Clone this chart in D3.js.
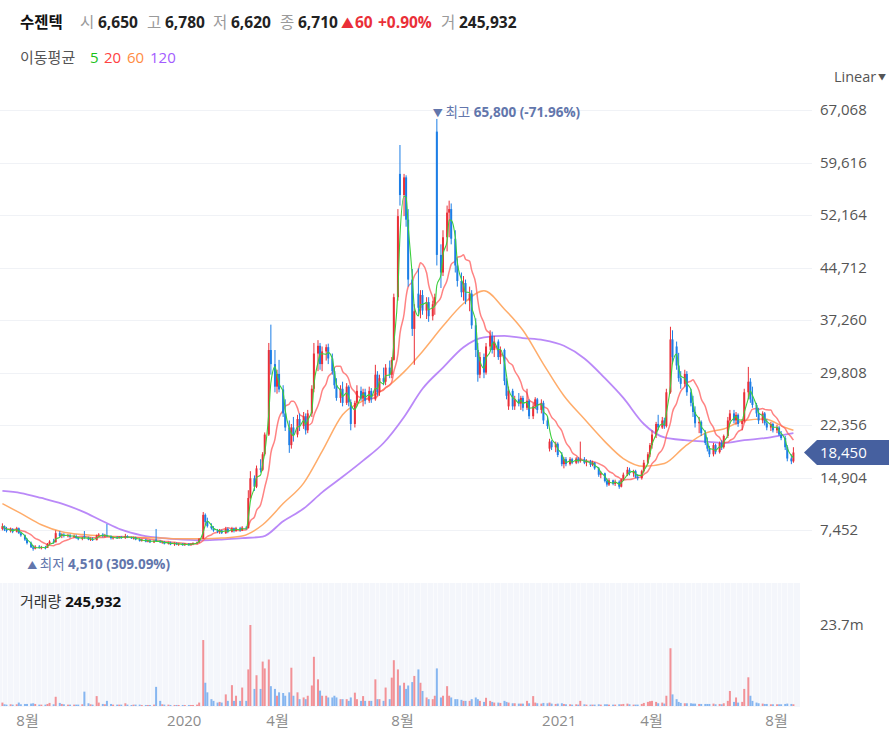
<!DOCTYPE html>
<html><head><meta charset="utf-8">
<script src="https://cdn.jsdelivr.net/npm/d3@7"></script>
<style>
html,body{margin:0;padding:0;background:#fff;}
svg{display:block;font-family:"Open Sans","Noto Sans CJK KR",sans-serif;}
</style></head><body>
<svg id="c" width="889" height="739"></svg>
<script>
// ---------- DATA ----------
const stockName = "수젠텍";
const headerLabels = ["시","고","저","종"];
const headerValues = ["6,650","6,780","6,620","6,710"];
const headerChange = ["▲","60","+0.90%"];
const headerVolume = ["거","245,932"];
const maLegend = ["5","20","60","120"];
const volumeLabel = "거래량";
const volumeMaxLabel = "23.7m";
const volumeMax = 23.7e6;
const yTicks = [7452,14904,22356,29808,37260,44712,52164,59616,67068];
const xTickDates = ["2019-08-01","2020-01-01","2020-04-01","2020-08-01","2021-01-01","2021-04-01","2021-08-01"];
const xTickLabels = ["8월","2020","4월","8월","2021","4월","8월"];
const firstCandleDate = "2019-07-08"; // one candle = 2 trading days
// candles: [open, high, low, close] in thousand KRW
const candles = [
[7.6,8.4,7.4,8.0],[8.0,8.1,7.3,7.5],[7.5,7.9,7.1,7.3],[7.3,7.8,7.1,7.6],[7.6,7.7,7.0,7.2],[7.2,7.9,7.1,7.7],[7.7,7.8,6.9,7.0],[7.0,7.2,6.5,6.7],[6.7,6.8,5.9,6.1],[6.1,6.3,5.4,5.6],
[5.6,5.8,4.9,5.0],[5.0,5.3,4.51,4.8],[4.8,5.3,4.7,5.1],[5.1,5.3,4.8,4.9],[4.9,5.2,4.7,5.0],[5.0,5.2,4.7,4.9],[4.9,5.6,4.9,5.5],[5.5,6.0,5.3,5.8],[5.8,6.2,5.5,5.7],[5.7,7.4,5.7,7.0],
[7.0,7.3,6.4,6.6],[6.6,7.0,6.3,6.8],[6.8,7.0,6.4,6.6],[6.6,6.9,6.4,6.7],[6.7,6.9,6.3,6.5],[6.5,6.8,6.3,6.6],[6.6,6.8,6.2,6.3],[6.3,6.5,6.0,6.2],[6.2,6.5,6.0,6.4],[6.6,7.3,6.2,6.4],
[6.4,6.5,6.0,6.1],[6.1,6.4,5.9,6.2],[6.2,6.4,5.9,6.0],[6.0,6.8,6.0,6.7],[6.7,7.0,6.5,6.8],[6.8,7.0,6.4,6.6],[6.6,6.9,6.4,6.7],[6.7,8.3,6.5,6.6],[6.6,6.7,6.1,6.3],[6.3,6.5,6.1,6.4],
[6.4,6.6,6.2,6.3],[6.3,6.6,6.2,6.5],[6.5,6.6,6.2,6.3],[6.3,6.9,6.2,6.6],[6.6,6.7,6.3,6.4],[6.4,6.5,6.2,6.3],[6.3,6.5,6.1,6.4],[6.4,6.5,6.0,6.1],[6.1,6.3,5.8,5.9],[5.9,6.2,5.8,6.1],
[6.1,6.2,5.7,5.8],[5.8,6.1,5.7,6.0],[6.0,6.1,5.6,5.7],[5.7,6.0,5.6,5.9],[6.1,7.6,5.8,5.9],[5.9,6.0,5.6,5.7],[5.7,5.9,5.5,5.8],[5.8,5.9,5.4,5.5],[5.5,5.8,5.4,5.7],[5.7,5.8,5.3,5.4],
[5.4,5.7,5.2,5.6],[5.6,5.7,5.3,5.4],[5.4,5.6,5.2,5.5],[5.5,5.6,5.2,5.3],[5.3,5.6,5.2,5.5],[5.5,5.6,5.2,5.3],[5.3,5.6,5.2,5.5],[5.5,5.7,5.3,5.6],[5.6,5.8,5.4,5.7],[5.7,6.3,5.6,6.2],
[6.2,10.0,6.2,9.6],[9.6,9.8,8.2,8.6],[8.6,9.2,7.8,8.0],[8.0,8.4,7.5,7.7],[7.7,8.0,7.2,7.4],[7.4,7.6,7.0,7.2],[7.2,7.6,6.9,7.4],[7.4,7.5,6.9,7.0],[7.0,7.9,6.9,7.6],[7.6,7.8,7.0,7.2],
[7.2,7.9,7.1,7.7],[7.7,7.8,7.1,7.3],[7.3,7.9,7.2,7.7],[7.7,7.9,7.2,7.4],[7.4,8.0,7.3,7.8],[7.8,8.0,7.5,7.7],[7.7,13.1,7.7,12.0],[12.0,15.8,11.8,14.8],[14.8,15.2,13.0,13.6],[13.6,16.6,13.4,16.2],
[16.2,17.5,15.6,16.0],[16.0,18.5,15.8,18.2],[18.2,21.3,18.0,21.0],[21.0,34.0,20.8,33.0],[33.0,36.6,29.5,31.0],[31.0,33.0,27.0,27.8],[27.8,30.2,26.8,29.6],[29.6,31.6,27.0,27.4],[27.4,28.0,23.5,24.0],[24.0,26.0,21.5,22.0],
[22.0,23.0,18.4,19.5],[19.5,22.5,19.0,22.0],[22.0,23.5,20.0,21.0],[21.0,23.8,20.6,23.2],[23.2,24.0,21.5,22.2],[22.2,24.2,21.8,23.6],[23.6,24.0,21.0,21.6],[21.6,24.5,21.2,24.0],[24.0,28.0,23.5,27.5],[27.5,34.0,27.0,32.5],
[32.5,34.4,30.0,33.6],[33.6,34.0,30.2,31.0],[31.0,33.5,30.0,32.8],[32.8,33.8,31.5,33.4],[33.4,33.9,31.0,31.8],[31.8,32.5,29.5,30.0],[30.0,30.5,27.5,28.0],[28.0,29.0,25.8,26.2],[26.2,28.0,25.5,27.5],[27.5,28.5,25.0,25.5],
[25.5,28.3,25.2,27.8],[27.8,28.0,25.0,25.6],[25.6,26.0,21.6,22.5],[22.5,25.8,22.0,25.5],[25.5,28.0,25.0,27.2],[27.2,27.8,25.8,26.2],[26.2,27.5,25.0,27.0],[27.0,27.5,25.3,25.8],[25.8,27.8,25.5,27.2],[27.2,27.6,25.5,26.0],
[26.0,30.9,25.8,29.5],[29.5,30.0,26.5,27.0],[27.0,29.5,26.5,29.0],[29.0,30.5,28.0,28.5],[28.5,31.0,28.0,30.5],[30.5,31.5,29.0,29.5],[29.5,32.0,29.0,31.6],[31.6,41.0,31.5,40.5],[40.5,53.0,40.0,52.0],[58.0,62.1,53.5,55.0],
[55.0,58.0,52.0,57.5],[57.5,57.8,50.5,51.5],[51.5,53.0,42.0,43.0],[43.0,44.5,35.0,36.0],[36.0,39.5,30.9,38.5],[41.0,44.6,38.0,39.0],[39.0,41.5,37.5,40.8],[40.8,41.5,38.0,38.6],[38.6,40.5,37.4,39.8],[39.8,40.5,37.0,37.8],
[37.8,40.0,37.2,39.5],[39.5,41.0,38.0,40.5],[64.0,65.8,45.0,46.5],[46.5,48.0,41.8,44.0],[44.0,50.0,43.5,49.0],[49.0,53.5,47.0,52.5],[52.5,54.2,49.0,53.0],[53.0,53.8,48.0,48.8],[48.8,50.0,44.0,45.0],[45.0,46.0,42.0,42.8],
[42.8,44.0,40.5,41.2],[41.2,43.5,40.0,42.5],[42.5,43.0,39.5,40.0],[40.0,42.0,38.5,41.0],[41.0,41.5,36.0,36.5],[36.5,37.5,32.0,33.0],[33.0,34.0,28.5,29.5],[29.5,32.7,29.0,32.0],[32.0,32.5,29.0,29.8],[29.8,34.0,29.5,33.5],
[33.5,35.8,33.0,35.0],[35.0,35.6,32.5,33.0],[33.0,35.0,32.0,34.2],[34.2,34.5,31.6,32.0],[32.0,33.5,31.0,33.0],[33.0,33.2,28.0,28.6],[28.6,29.0,26.0,26.5],[25.0,27.8,24.5,27.2],[27.2,27.5,24.5,25.0],[25.0,26.5,24.5,26.0],
[26.0,26.9,25.0,25.4],[25.4,26.5,24.5,26.2],[26.2,26.5,24.3,24.8],[24.8,27.5,24.5,25.8],[25.8,26.0,23.2,23.6],[23.6,25.5,23.2,25.0],[25.0,26.3,24.6,26.0],[26.0,26.2,24.0,24.5],[24.5,26.0,24.0,25.5],[25.5,25.8,22.5,23.0],
[23.0,23.5,21.8,22.2],[19.0,20.4,18.6,20.0],[20.0,20.2,18.8,19.2],[19.2,20.0,18.5,19.7],[19.7,19.9,17.8,18.1],[18.1,18.5,16.5,16.8],[16.8,17.8,16.2,17.5],[17.5,17.8,16.5,16.8],[16.8,17.8,16.6,17.5],[17.5,17.7,16.8,17.0],
[17.0,17.8,16.8,17.6],[17.6,17.8,16.9,17.2],[17.2,20.0,17.0,17.5],[17.5,17.8,16.8,17.0],[17.0,17.5,16.5,17.2],[17.2,17.4,16.4,16.7],[16.7,17.3,16.5,17.0],[17.0,17.1,16.0,16.2],[16.2,16.4,15.0,15.3],[15.3,15.8,14.8,15.5],
[15.5,15.6,14.2,14.4],[14.4,14.8,13.6,13.9],[13.9,14.8,13.7,14.5],[14.5,14.6,13.8,14.0],[14.0,14.6,13.7,14.3],[14.3,14.5,13.3,13.6],[13.6,14.8,13.5,14.6],[14.6,15.6,14.4,15.3],[15.3,16.4,15.1,16.0],[16.0,16.3,15.2,15.5],
[15.5,16.0,15.0,15.8],[15.8,16.0,14.8,15.0],[15.0,15.4,14.5,14.8],[14.8,16.0,14.6,15.8],[15.8,17.4,15.6,17.0],[17.0,18.5,16.8,18.2],[18.2,19.8,17.8,19.5],[19.5,21.6,19.0,21.0],[21.0,22.8,20.5,22.5],[22.5,23.8,21.6,22.0],
[22.0,23.5,21.8,23.0],[23.0,23.4,21.8,22.2],[22.2,27.5,22.0,27.0],[27.0,36.3,26.8,34.5],[34.5,35.8,31.0,32.0],[33.5,34.2,30.2,30.8],[30.8,32.6,28.5,29.0],[29.0,30.0,27.5,28.2],[28.2,30.2,27.8,29.6],[29.6,30.0,26.5,27.0],
[27.0,27.5,25.0,25.5],[25.5,26.5,23.5,24.2],[24.2,25.0,22.0,22.6],[22.6,23.5,21.2,22.8],[22.8,23.0,20.8,21.2],[21.2,21.6,19.5,19.8],[19.8,20.6,18.6,19.0],[19.0,19.4,17.8,18.2],[18.2,19.8,17.9,19.5],[19.5,19.7,18.2,18.5],
[18.5,20.0,18.3,19.8],[19.8,20.2,18.8,19.2],[19.2,21.0,19.0,20.8],[20.8,23.5,20.5,23.0],[23.0,24.5,22.5,24.0],[24.0,24.5,22.6,23.0],[23.0,24.2,22.4,23.8],[23.8,24.0,22.1,22.5],[22.5,23.2,21.6,22.9],[22.9,27.5,22.7,27.0],
[27.0,30.6,26.0,28.5],[28.5,29.0,25.5,26.0],[26.0,27.8,24.8,25.2],[25.2,25.5,23.5,24.0],[24.0,24.8,22.5,23.0],[23.0,24.3,22.6,24.0],[24.0,24.2,22.3,22.6],[22.6,23.2,21.6,22.0],[22.0,22.8,21.5,22.5],[22.5,22.7,21.3,21.6],
[21.6,22.4,21.2,22.0],[22.0,22.2,20.8,21.0],[21.0,21.5,20.2,20.5],[20.5,20.8,18.8,19.2],[19.2,19.5,17.2,17.6],[17.6,18.2,16.8,17.2],[17.2,19.2,17.0,18.45]
];
// volume per candle, millions of shares
const volumes = [
1.0,0.5,0.4,0.5,0.4,0.5,1.0,0.5,0.6,0.6, 0.7,0.8,0.6,0.4,0.4,0.4,0.6,0.9,0.5,2.7,
0.9,0.6,0.5,0.4,0.4,0.4,0.4,0.4,0.5,4.2, 0.8,0.5,0.4,2.9,1.0,0.6,0.5,1.5,0.6,0.4,
0.4,0.4,0.4,0.8,0.4,0.3,0.4,0.4,0.4,0.3, 0.3,0.3,0.3,0.4,5.6,1.5,0.5,0.4,0.4,0.3,
0.3,0.3,0.3,0.3,0.3,0.3,0.3,0.3,0.4,1.0, 19.3,6.8,4.0,2.0,1.5,1.0,1.2,1.0,3.4,1.5,
6.1,1.5,3.0,1.5,5.4,1.5,10.7,23.7,5.0,9.0, 5.0,13.0,11.0,13.6,5.8,5.0,3.0,4.0,3.8,3.0,
4.0,11.2,3.0,4.0,2.0,2.5,2.0,3.0,6.0,14.4, 7.8,4.5,3.0,3.0,2.5,2.5,3.0,2.5,2.0,2.0,
2.0,1.5,2.5,3.9,2.0,1.5,2.9,1.5,1.5,1.5, 7.8,2.0,2.0,1.5,5.4,2.0,8.3,13.4,10.7,6.0,
6.8,5.0,6.0,7.0,8.8,10.7,6.8,4.4,2.5,2.0, 2.0,3.0,11.0,2.5,3.0,5.8,3.0,2.5,2.0,2.0,
1.8,1.5,1.5,1.5,2.0,2.5,2.0,1.5,1.2,2.4, 1.5,1.2,1.0,1.0,0.9,1.5,1.2,1.0,0.8,0.8,
0.7,0.7,0.7,1.5,0.8,2.9,1.0,0.8,0.7,0.9, 0.8,1.0,0.7,0.6,0.7,0.8,0.6,0.5,0.5,0.4,
0.5,0.4,1.5,0.5,0.4,0.4,0.4,0.4,0.5,0.4, 0.5,0.5,0.4,0.4,0.4,0.5,0.5,0.6,0.7,0.5,
0.4,0.4,0.4,0.6,0.9,1.2,1.4,1.5,1.2,0.8, 1.0,0.7,3.0,16.9,3.4,2.0,1.2,0.9,0.8,0.8,
0.8,0.7,0.7,0.6,0.6,0.6,0.6,0.6,0.7,0.5, 0.6,0.5,0.8,1.5,4.4,1.2,2.5,1.0,1.2,5.0,
8.4,3.0,1.5,1.0,0.8,0.7,0.6,0.6,0.5,0.5, 0.5,0.5,0.5,0.6,0.7,0.6,0.5
];
const maSampleIdx = [0,7,14,21,28,35,42,49,56,63,70,77,84,91,98,105,112,119,126,133,140,147,154,161,168,175,182,189,196,203,210,217,224,231,238,245,252,259,266,273,276];
const ma60 = [11.2,9.8,8.2,7.2,6.8,6.6,6.5,6.4,6.3,6.2,6.2,6.3,6.6,8.2,11.2,14.1,18.6,23.8,25.8,27.4,29.9,32.8,36.4,39.6,41.4,38.8,35.8,31.0,26.5,23.2,20.0,17.6,16.5,16.9,19.3,21.2,21.8,23.0,23.2,22.0,21.6];
const ma120 = [13.0,12.7,12.0,11.2,10.1,8.7,7.5,6.7,6.3,6.1,6.0,6.1,6.3,6.5,8.7,10.5,12.8,15.0,17.3,19.8,23.5,27.5,30.5,33.4,34.8,35.0,34.7,34.4,33.6,31.8,29.0,26.2,22.5,20.6,20.2,20.0,19.8,20.2,20.5,21.0,21.2];

// ---------- CHART ----------
const svg = d3.select("#c");
const K = 1000;
const parse = d3.timeParse("%Y-%m-%d");
const start = parse(firstCandleDate);
const n = Math.min(candles.length, volumes.length);
const rows = d3.range(n).map(i => {
  const k = 2*i; const d = d3.timeDay.offset(start, Math.floor(k/5)*7 + k%5);
  const c = candles[i];
  return {date:d, o:c[0]*K, h:c[1]*K, l:c[2]*K, c:c[3]*K, v:volumes[i]*1e6};
});

const x = d3.scaleTime().domain([parse("2019-08-01"), parse("2021-08-01")]).range([27, 776]);
const y = d3.scaleLinear().domain([0, 67068]).range([582.5, 110]);
const yv = d3.scaleLinear().domain([0, volumeMax]).range([706, 625]);

const UP = "#ea2f38", DOWN = "#1c7ee6";
const C5 = "#3ccf3c", C20 = "#ff6464", C60 = "#ffa35a", C120 = "#b27cf7";

// header
const hdr = svg.append("text").attr("y", 28).attr("font-size", 15.5);
hdr.append("tspan").attr("x", 20).attr("font-weight", 700).attr("fill", "#111").text(stockName);
const lx = [80,147,213,280], vx = [98,165,231,298];
headerLabels.forEach((l,i) => {
  hdr.append("tspan").attr("x", lx[i]).attr("fill", "#9a9a9a").text(l);
  hdr.append("tspan").attr("x", vx[i]).attr("font-weight", 700).attr("fill", "#222").text(headerValues[i]);
});
hdr.append("tspan").attr("x", 341).attr("fill", "#ea2f38").attr("font-size", 13).text(headerChange[0]);
hdr.append("tspan").attr("x", 355).attr("fill", "#ea2f38").attr("font-weight", 700).text(headerChange[1]);
hdr.append("tspan").attr("x", 378).attr("fill", "#ea2f38").attr("font-weight", 700).text(headerChange[2]);
hdr.append("tspan").attr("x", 441).attr("fill", "#9a9a9a").text(headerVolume[0]);
hdr.append("tspan").attr("x", 459).attr("font-weight", 700).attr("fill", "#222").text(headerVolume[1]);

// MA legend
const leg = svg.append("text").attr("y", 63).attr("font-size", 15);
leg.append("tspan").attr("x", 20).attr("fill", "#555").text("이동평균");
const legX = [90,104,127,150], legC = ["#19c219","#ff4242","#ff8c42","#a35cff"];
maLegend.forEach((t,i) => leg.append("tspan").attr("x", legX[i]).attr("fill", legC[i]).text(t));

// Linear
svg.append("text").attr("x", 834).attr("y", 82).attr("font-size", 14.5).attr("fill", "#555").text("Linear");
svg.append("text").attr("x", 878).attr("y", 80).attr("font-size", 8).attr("fill", "#555").text("▼");

// grid
svg.append("g").selectAll("line").data(yTicks).join("line")
  .attr("x1", 0).attr("x2", 812).attr("y1", d => Math.round(y(d))+0.5).attr("y2", d => Math.round(y(d))+0.5)
  .attr("stroke", "#f0f2f6");

// y axis
const ya = svg.append("g").attr("transform", "translate(810,0)")
  .call(d3.axisRight(y).tickValues(yTicks).tickSize(0).tickPadding(10).tickFormat(d3.format(",")));
ya.select(".domain").remove();
ya.selectAll("text").attr("font-size", 15).attr("fill", "#555").attr("font-family", "Open Sans");

// volume panel
svg.append("rect").attr("x", 0).attr("y", 583).attr("width", 800).attr("height", 124).attr("fill", "#f4f6fb");
svg.append("g").selectAll("line").data(rows.filter((d,i) => i % 2 === 0)).join("line")
  .attr("x1", d => Math.round(x(d.date))+0.5).attr("x2", d => Math.round(x(d.date))+0.5)
  .attr("y1", 583).attr("y2", 707).attr("stroke", "#fff").attr("stroke-opacity", 0.7).attr("stroke-width", 0.8);
svg.append("g").selectAll("rect").data(rows).join("rect")
  .attr("x", d => x(d.date) - 1).attr("width", 2)
  .attr("y", d => yv(d.v)).attr("height", d => yv(0) - yv(d.v))
  .attr("fill", d => d.c >= d.o ? "#f29297" : "#86b6f0");
const vl = svg.append("text").attr("x", 20).attr("y", 607).attr("font-size", 15);
vl.append("tspan").attr("fill", "#333").text(volumeLabel + " ");
vl.append("tspan").attr("font-weight", 700).attr("fill", "#111").text(headerVolume[1]);
svg.append("text").attr("x", 820).attr("y", yv(volumeMax) + 5).attr("font-size", 15).attr("fill", "#555").text(volumeMaxLabel);

// x axis
const xa = svg.append("g").attr("transform", "translate(0,707)")
  .call(d3.axisBottom(x).tickValues(xTickDates.map(parse)).tickSize(0).tickPadding(8).tickFormat((d,i) => xTickLabels[i]));
xa.select(".domain").remove();
xa.selectAll("text").attr("font-size", 15).attr("fill", "#8c8c8c").attr("font-family", "Open Sans, Noto Sans CJK KR");

// moving averages
function movingAvg(win){ return rows.map((r,i) => ({date:r.date, v:d3.mean(rows.slice(Math.max(0,i-win+1), i+1), d => d.c)})); }
const line = d3.line().x(d => x(d.date)).y(d => y(d.v)).curve(d3.curveMonotoneX);
const sampled = arr => maSampleIdx.map((ix,j) => ({date: rows[Math.min(ix, n-1)].date, v: arr[j]*K}));
svg.append("path").datum(sampled(ma120)).attr("d", line).attr("fill","none").attr("stroke", C120).attr("stroke-width", 1.8).attr("stroke-opacity", 0.9);
svg.append("path").datum(sampled(ma60)).attr("d", line).attr("fill","none").attr("stroke", C60).attr("stroke-width", 1.5).attr("stroke-opacity", 0.9);
svg.append("path").datum(movingAvg(10)).attr("d", line).attr("fill","none").attr("stroke", C20).attr("stroke-width", 1.5).attr("stroke-opacity", 0.8);

// candles
const cg = svg.append("g");
cg.selectAll("line").data(rows).join("line")
  .attr("x1", d => x(d.date)).attr("x2", d => x(d.date))
  .attr("y1", d => y(Math.max(d.h, d.o, d.c))).attr("y2", d => y(Math.min(d.l, d.o, d.c)))
  .attr("stroke", d => d.c >= d.o ? UP : DOWN).attr("stroke-width", 1);
cg.selectAll("rect").data(rows).join("rect")
  .attr("x", d => x(d.date) - 1).attr("width", 2)
  .attr("y", d => y(Math.max(d.o, d.c)))
  .attr("height", d => Math.max(1, Math.abs(y(d.o) - y(d.c))))
  .attr("fill", d => d.c >= d.o ? UP : DOWN);

svg.append("path").datum(movingAvg(3)).attr("d", line).attr("fill","none").attr("stroke", C5).attr("stroke-width", 1.1);

// max / min annotations
const last = rows[n-1].c;
const maxR = rows.reduce((a,b) => b.h > a.h ? b : a);
const minR = rows.reduce((a,b) => b.l < a.l ? b : a);
const fmt = d3.format(",");
const pct = v => (v < 0 ? "-" : "") + Math.abs(v).toFixed(2);
const ANN = "#6276ac";
const ta = svg.append("text").attr("x", x(maxR.date) - 4).attr("y", y(maxR.h) - 2).attr("font-size", 13.5).attr("fill", ANN);
ta.append("tspan").attr("font-size", 10).text("▼ ");
ta.append("tspan").text("최고 ");
ta.append("tspan").attr("font-weight", 700).text(fmt(maxR.h) + " (" + pct((last/maxR.h - 1)*100) + "%)");
const tb = svg.append("text").attr("x", x(minR.date) - 6).attr("y", y(minR.l) + 18).attr("font-size", 13.5).attr("fill", ANN);
tb.append("tspan").attr("font-size", 10).text("▲ ");
tb.append("tspan").text("최저 ");
tb.append("tspan").attr("font-weight", 700).text(fmt(minR.l) + " (" + pct((last/minR.l - 1)*100) + "%)");

// last price marker
const ly = y(last);
svg.append("path").attr("d", `M804,${ly} L817,${ly-12.5} L889,${ly-12.5} L889,${ly+12.5} L817,${ly+12.5} Z`).attr("fill", "#46609f");
svg.append("text").attr("x", 820).attr("y", ly + 5.5).attr("font-size", 15).attr("fill", "#fff").text(fmt(last));
</script>
</body></html>
